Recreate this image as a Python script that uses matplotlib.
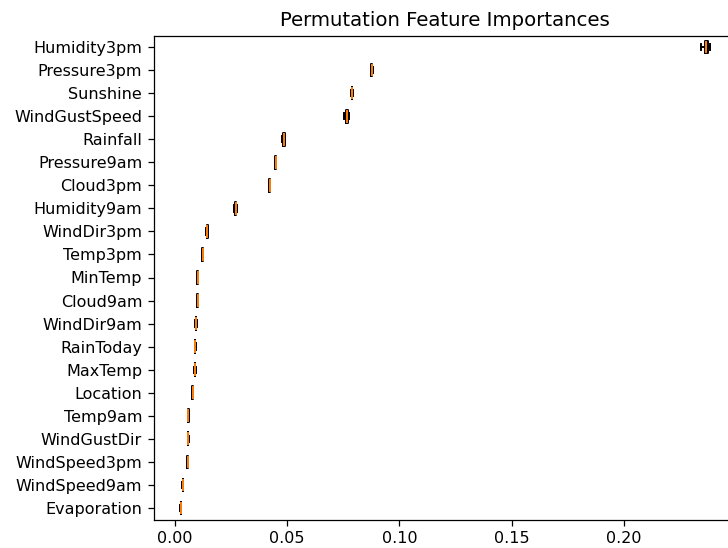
import matplotlib.pyplot as plt

# Features ordered top to bottom as drawn
features = [
    "Humidity3pm", "Pressure3pm", "Sunshine", "WindGustSpeed", "Rainfall",
    "Pressure9am", "Cloud3pm", "Humidity9am", "WindDir3pm", "Temp3pm",
    "MinTemp", "Cloud9am", "WindDir9am", "RainToday", "MaxTemp",
    "Location", "Temp9am", "WindGustDir", "WindSpeed3pm", "WindSpeed9am",
    "Evaporation",
]

# Importance drop over repeated shuffles, one list per feature
humidity3pm = [0.2342, 0.2360, 0.2366, 0.2372, 0.2380]
pressure3pm = [0.0873, 0.0875, 0.0876, 0.0878, 0.0881]
sunshine = [0.0786, 0.0788, 0.0789, 0.0791, 0.0793]
windgustspeed = [0.0753, 0.0762, 0.0766, 0.0770, 0.0777]
rainfall = [0.0478, 0.0483, 0.0486, 0.0489, 0.0493]
pressure9am = [0.0446, 0.0448, 0.0449, 0.0450, 0.0452]
cloud3pm = [0.0420, 0.0422, 0.0423, 0.0424, 0.0426]
humidity9am = [0.0265, 0.0269, 0.0271, 0.0274, 0.0277]
winddir3pm = [0.0140, 0.0143, 0.0145, 0.0147, 0.0149]
temp3pm = [0.0122, 0.0124, 0.0125, 0.0126, 0.0128]
mintemp = [0.0099, 0.0101, 0.0102, 0.0103, 0.0105]
cloud9am = [0.0099, 0.0101, 0.0103, 0.0104, 0.0106]
winddir9am = [0.0092, 0.0094, 0.0095, 0.0096, 0.0098]
raintoday = [0.0089, 0.0090, 0.0091, 0.0092, 0.0093]
maxtemp = [0.0088, 0.0090, 0.0091, 0.0092, 0.0094]
location = [0.0078, 0.0079, 0.0080, 0.0081, 0.0082]
temp9am = [0.0059, 0.0060, 0.0061, 0.0062, 0.0063]
windgustdir = [0.0058, 0.0059, 0.0060, 0.0061, 0.0062]
windspeed3pm = [0.0056, 0.0057, 0.0058, 0.0059, 0.0060]
windspeed9am = [0.0035, 0.0036, 0.0037, 0.0038, 0.0039]
evaporation = [0.0026, 0.0027, 0.0028, 0.0029, 0.0030]

importances = [
    humidity3pm, pressure3pm, sunshine, windgustspeed, rainfall,
    pressure9am, cloud3pm, humidity9am, winddir3pm, temp3pm,
    mintemp, cloud9am, winddir9am, raintoday, maxtemp,
    location, temp9am, windgustdir, windspeed3pm, windspeed9am,
    evaporation,
]


def main() -> None:
    fig = plt.figure(figsize=(7.28, 5.48), dpi=100)
    # axes run slightly past the right edge of the canvas
    ax = fig.add_axes([154 / 728, 1 - 519.5 / 548, 582 / 728, 484 / 548])

    lw = 1.4
    # boxplot draws bottom-up, so reverse to keep the most important on top
    ax.boxplot(
        importances[::-1],
        vert=False,
        labels=features[::-1],
        widths=0.55,
        boxprops=dict(linewidth=lw),
        whiskerprops=dict(linewidth=lw),
        capprops=dict(linewidth=lw),
        medianprops=dict(linewidth=lw),
    )
    ax.set_title("Permutation Feature Importances", fontsize=14.2, pad=7)
    ax.tick_params(axis="both", labelsize=11.5, length=4, width=0.9, pad=4.5)
    for spine in ax.spines.values():
        spine.set_linewidth(0.9)

    fig.savefig("out.png", dpi=100)


if __name__ == "__main__":
    main()
